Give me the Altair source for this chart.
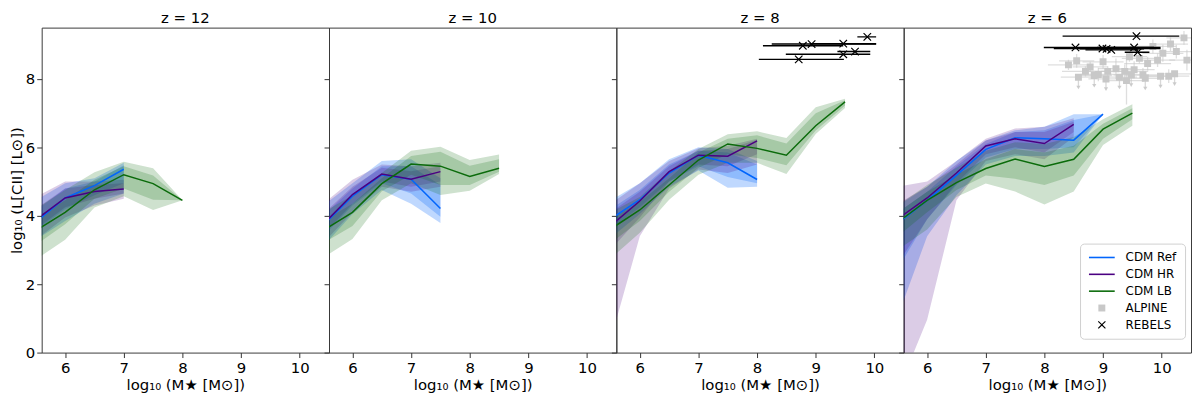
import altair as alt
import pandas as pd

# ---------------- labels / ticks ----------------
PANEL_TITLES = ["z = 12", "z = 10", "z = 8", "z = 6"]
LEGEND_ITEMS = ["CDM Ref", "CDM HR", "CDM LB", "ALPINE", "REBELS"]
X_TICKS = [6, 7, 8, 9, 10]
Y_TICKS = [0, 2, 4, 6, 8]

# ---------------- z = 12 ----------------
z12_ref_x = [5.5, 6.0, 6.5, 7.0]
z12_ref_y = [3.82, 4.52, 4.88, 5.36]
z12_ref_ilo = [3.55, 4.20, 4.60, 4.95]
z12_ref_ihi = [4.15, 4.80, 5.00, 5.48]
z12_ref_olo = [3.30, 3.85, 4.35, 4.65]
z12_ref_ohi = [4.45, 4.95, 5.10, 5.55]

z12_hr_x = [5.5, 6.0, 6.5, 7.0]
z12_hr_y = [3.88, 4.52, 4.71, 4.78]
z12_hr_ilo = [3.60, 4.25, 4.50, 4.65]
z12_hr_ihi = [4.20, 4.80, 4.90, 4.95]
z12_hr_olo = [3.30, 3.95, 4.30, 4.50]
z12_hr_ohi = [4.55, 5.00, 5.00, 5.05]

z12_lb_x = [5.5, 6.0, 6.5, 7.0, 7.5, 8.0]
z12_lb_y = [3.57, 4.10, 4.76, 5.20, 4.94, 4.45]
z12_lb_ilo = [3.15, 3.75, 4.50, 4.80, 4.47, 4.45]
z12_lb_ihi = [3.95, 4.45, 5.05, 5.45, 5.18, 4.45]
z12_lb_olo = [2.72, 3.30, 4.24, 4.57, 4.17, 4.45]
z12_lb_ohi = [4.20, 4.75, 5.27, 5.58, 5.39, 4.45]

# ---------------- z = 10 ----------------
z10_ref_x = [5.5, 6.0, 6.5, 7.0, 7.5]
z10_ref_y = [3.72, 4.57, 5.20, 5.07, 4.21]
z10_ref_ilo = [3.40, 4.30, 4.95, 4.65, 3.97]
z10_ref_ihi = [4.00, 4.80, 5.45, 5.45, 4.90]
z10_ref_olo = [3.10, 4.05, 4.75, 4.35, 3.79]
z10_ref_ohi = [4.30, 4.95, 5.60, 5.65, 5.10]

z10_hr_x = [5.5, 6.0, 6.5, 7.0, 7.5]
z10_hr_y = [3.75, 4.62, 5.22, 5.07, 5.29]
z10_hr_ilo = [3.45, 4.35, 5.00, 4.85, 5.00]
z10_hr_ihi = [4.05, 4.85, 5.40, 5.30, 5.45]
z10_hr_olo = [3.20, 4.10, 4.85, 4.70, 4.85]
z10_hr_ohi = [4.35, 5.05, 5.50, 5.45, 5.55]

z10_lb_x = [5.5, 6.0, 6.5, 7.0, 7.5, 8.0, 8.5]
z10_lb_y = [3.57, 4.10, 4.94, 5.51, 5.45, 5.15, 5.39]
z10_lb_ilo = [3.20, 3.70, 4.72, 5.20, 4.90, 4.90, 5.29]
z10_lb_ihi = [3.85, 4.35, 5.10, 5.75, 5.87, 5.46, 5.65]
z10_lb_olo = [2.77, 3.32, 4.45, 4.95, 4.61, 4.73, 5.22]
z10_lb_ohi = [4.10, 4.60, 5.25, 5.90, 6.02, 5.63, 5.79]

# ---------------- z = 8 ----------------
z8_ref_x = [5.5, 6.0, 6.5, 7.0, 7.5, 8.0]
z8_ref_y = [3.90, 4.47, 5.25, 5.77, 5.55, 5.06]
z8_ref_ilo = [3.60, 4.25, 5.00, 5.45, 5.13, 4.95]
z8_ref_ihi = [4.20, 4.75, 5.50, 5.90, 5.85, 5.50]
z8_ref_olo = [3.35, 4.05, 4.85, 5.32, 4.82, 4.85]
z8_ref_ohi = [4.45, 4.95, 5.65, 6.00, 5.95, 5.60]

z8_hr_x = [5.5, 6.0, 6.5, 7.0, 7.5, 8.0]
z8_hr_y = [3.70, 4.43, 5.29, 5.77, 5.74, 6.19]
z8_hr_ilo = [3.00, 3.95, 5.00, 5.50, 5.45, 5.80]
z8_hr_ihi = [4.10, 4.70, 5.45, 5.90, 5.95, 6.22]
z8_hr_olo = [0.35, 3.40, 4.80, 5.35, 5.25, 5.50]
z8_hr_ohi = [4.35, 4.95, 5.60, 5.97, 6.05, 6.25]

z8_lb_x = [5.5, 6.0, 6.5, 7.0, 7.5, 8.0, 8.5, 9.0, 9.5]
z8_lb_y = [3.61, 4.17, 4.90, 5.63, 6.10, 5.97, 5.77, 6.63, 7.33]
z8_lb_ilo = [3.20, 3.85, 4.70, 5.40, 5.80, 5.69, 5.48, 6.49, 7.22]
z8_lb_ihi = [3.90, 4.40, 5.10, 5.85, 6.25, 6.35, 6.11, 7.00, 7.38]
z8_lb_olo = [2.75, 3.50, 4.47, 5.20, 5.55, 5.55, 5.22, 6.39, 7.15]
z8_lb_ohi = [4.10, 4.55, 5.30, 5.95, 6.38, 6.47, 6.27, 7.17, 7.42]

# ---------------- z = 6 ----------------
z6_ref_x = [5.5, 6.0, 6.5, 7.0, 7.5, 8.0, 8.5, 9.0]
z6_ref_y = [3.78, 4.45, 5.18, 5.94, 6.28, 6.25, 6.21, 6.97]
z6_ref_ilo = [2.45, 3.90, 4.90, 5.70, 5.95, 5.95, 6.00, 6.97]
z6_ref_ihi = [4.10, 4.70, 5.45, 6.10, 6.45, 6.50, 6.80, 6.97]
z6_ref_olo = [1.06, 3.40, 4.60, 5.50, 5.75, 5.75, 5.85, 6.97]
z6_ref_ohi = [4.30, 4.85, 5.60, 6.20, 6.50, 6.60, 6.97, 6.97]

z6_hr_x = [5.5, 6.0, 6.5, 7.0, 7.5, 8.0, 8.5]
z6_hr_y = [3.91, 4.52, 5.25, 6.04, 6.25, 6.11, 6.67]
z6_hr_ilo = [2.60, 3.90, 4.95, 5.80, 6.00, 5.85, 6.45]
z6_hr_ihi = [4.35, 4.85, 5.50, 6.20, 6.45, 6.45, 6.75]
z6_hr_olo = [-1.13, 0.96, 4.45, 5.60, 5.80, 5.65, 6.30]
z6_hr_ohi = [4.85, 5.00, 5.60, 6.25, 6.55, 6.60, 6.85]

z6_lb_x = [5.5, 6.0, 6.5, 7.0, 7.5, 8.0, 8.5, 9.0, 9.5]
z6_lb_y = [3.81, 4.45, 4.97, 5.38, 5.66, 5.44, 5.65, 6.53, 7.00]
z6_lb_ilo = [3.40, 4.10, 4.75, 5.18, 5.08, 4.90, 5.18, 6.25, 6.82]
z6_lb_ihi = [4.10, 4.70, 5.20, 5.65, 5.95, 5.85, 6.05, 6.69, 7.14]
z6_lb_olo = [3.00, 3.60, 4.55, 4.94, 4.71, 4.33, 4.71, 6.07, 6.63]
z6_lb_ohi = [4.30, 4.90, 5.40, 5.90, 6.15, 6.10, 6.30, 6.82, 7.26]

# ---------------- REBELS ----------------
reb8_x = [8.78, 8.93, 9.47, 9.88, 9.47, 9.67, 8.71]
reb8_y = [8.97, 9.02, 9.03, 9.23, 8.72, 8.80, 8.57]
reb8_xlo = [8.10, 8.25, 8.90, 9.71, 8.49, 9.37, 8.03]
reb8_xhi = [9.47, 10.03, 10.03, 10.03, 9.93, 9.93, 9.48]

reb6_x = [9.57, 8.53, 8.99, 9.06, 9.14, 9.53, 9.59]
reb6_y = [9.25, 8.92, 8.89, 8.88, 8.85, 8.92, 8.78]
reb6_xlo = [8.31, 7.99, 8.16, 8.60, 8.70, 8.90, 9.37]
reb6_xhi = [10.30, 9.87, 9.98, 9.70, 9.60, 9.98, 9.79]

# ---------------- ALPINE (z = 6) ----------------
alp_x = [8.41, 8.55, 8.70, 8.92, 9.08, 9.22, 9.37, 9.53, 9.62, 9.76, 9.93,
         10.02, 10.15, 10.38, 10.43, 10.12, 9.85, 9.45, 9.00, 8.78, 9.68, 10.25, 9.40]
alp_y = [8.41, 8.53, 8.22, 8.13, 8.22, 8.30, 8.22, 8.27, 8.60, 8.45, 8.55,
         8.75, 9.02, 9.20, 8.55, 8.08, 8.95, 8.65, 8.50, 8.35, 8.12, 8.80, 7.95]
alp_xerr = [0.35, 0.30, 0.40, 0.30, 0.35, 0.30, 0.40, 0.35, 0.30, 0.40, 0.30,
            0.35, 0.30, 0.30, 0.30, 0.35, 0.40, 0.30, 0.35, 0.30, 0.30, 0.30, 0.30]
alp_yerr = [0.15, 0.20, 0.15, 0.20, 0.15, 0.30, 0.20, 0.25, 0.15, 0.20, 0.20,
            0.25, 0.20, 0.20, 0.30, 0.20, 0.20, 0.15, 0.20, 0.15, 0.20, 0.20, 0.70]
alp_ul_x = [8.58, 8.85, 9.05, 9.28, 9.48, 9.72, 9.98, 10.22]
alp_ul_y = [8.05, 8.10, 8.00, 8.05, 8.12, 8.02, 8.08, 8.15]
alp_ul_len = [0.30, 0.30, 0.30, 0.30, 0.30, 0.30, 0.30, 0.30]

# ---------------- styling ----------------
COLORS = ["#0165fc", "#4b0082", "#0b6b0b"]
BAND_OPACITY = [0.25, 0.2, 0.2]
ALPINE_COLOR = "#c8c8c8"
W, H = 290, 328
FONT = "DejaVu Sans"
FS = 15
LINE_PATH = "M-2.6,-0.16H2.6V0.16H-2.6Z"
SQ_PATH = "M-0.7,-0.7H0.7V0.7H-0.7Z"
X_PATH = ("M-0.8,-0.64L-0.64,-0.8L0,-0.16L0.64,-0.8L0.8,-0.64L0.16,0"
          "L0.8,0.64L0.64,0.8L0,0.16L-0.64,0.8L-0.8,0.64L-0.16,0Z")

XS = alt.Scale(domain=[5.6, 10.5], nice=False, zero=False)
YS = alt.Scale(domain=[0, 9.5], nice=False, zero=False)


def xenc(field="x"):
    return alt.X(f"{field}:Q", scale=XS,
                 axis=alt.Axis(values=X_TICKS, format="d", title="log₁₀ (M★ [M⊙])",
                               titlePadding=2))


def yenc(field, first):
    if first:
        ax = alt.Axis(values=Y_TICKS, format="d", title="log₁₀ (L[CII] [L⊙])",
                      titlePadding=1, labelPadding=2)
    else:
        ax = alt.Axis(values=Y_TICKS, labels=False, title=None)
    return alt.Y(f"{field}:Q", scale=YS, axis=ax)


def sdf(x, y, ilo, ihi, olo, ohi):
    return pd.DataFrame(dict(x=x, y=y, ilo=ilo, ihi=ihi, olo=olo, ohi=ohi))


def panel(title, dfs, first, extras):
    bands, lines = [], []
    for df, col, op in zip(dfs, COLORS, BAND_OPACITY):
        base = alt.Chart(df)
        bands.append(base.mark_area(color=col, opacity=op, clip=True).encode(
            x=xenc(), y=yenc("olo", first), y2="ohi:Q"))
        bands.append(base.mark_area(color=col, opacity=op, clip=True).encode(
            x=xenc(), y=yenc("ilo", first), y2="ihi:Q"))
        lines.append(base.mark_line(color=col, strokeWidth=1.5, clip=True).encode(
            x=xenc(), y=yenc("y", first)))
    return alt.layer(*(bands + lines + extras)).properties(
        width=W, height=H, title=alt.TitleParams(title))


def rebels_layers(x, y, xlo, xhi, legend=None):
    df = pd.DataFrame(dict(x=x, y=y, xlo=xlo, xhi=xhi, series="REBELS"))
    bars = alt.Chart(df).mark_rule(color="black", strokeWidth=1.4, clip=True).encode(
        x=xenc("xlo"), x2="xhi:Q", y=yenc("y", False))
    if legend is None:
        pts = alt.Chart(df).mark_point(shape=X_PATH, filled=True, size=110, color="black",
                                       opacity=1, clip=True).encode(x=xenc(), y=yenc("y", False))
    else:
        pts = alt.Chart(df).mark_point(filled=True, size=110, opacity=1, clip=True).encode(
            x=xenc(), y=yenc("y", False), **legend)
    return [bars, pts]


# ---------------- panels ----------------
p12 = panel(PANEL_TITLES[0], [
    sdf(z12_ref_x, z12_ref_y, z12_ref_ilo, z12_ref_ihi, z12_ref_olo, z12_ref_ohi),
    sdf(z12_hr_x, z12_hr_y, z12_hr_ilo, z12_hr_ihi, z12_hr_olo, z12_hr_ohi),
    sdf(z12_lb_x, z12_lb_y, z12_lb_ilo, z12_lb_ihi, z12_lb_olo, z12_lb_ohi)], True, [])

p10 = panel(PANEL_TITLES[1], [
    sdf(z10_ref_x, z10_ref_y, z10_ref_ilo, z10_ref_ihi, z10_ref_olo, z10_ref_ohi),
    sdf(z10_hr_x, z10_hr_y, z10_hr_ilo, z10_hr_ihi, z10_hr_olo, z10_hr_ohi),
    sdf(z10_lb_x, z10_lb_y, z10_lb_ilo, z10_lb_ihi, z10_lb_olo, z10_lb_ohi)], False, [])

p8 = panel(PANEL_TITLES[2], [
    sdf(z8_ref_x, z8_ref_y, z8_ref_ilo, z8_ref_ihi, z8_ref_olo, z8_ref_ohi),
    sdf(z8_hr_x, z8_hr_y, z8_hr_ilo, z8_hr_ihi, z8_hr_olo, z8_hr_ohi),
    sdf(z8_lb_x, z8_lb_y, z8_lb_ilo, z8_lb_ihi, z8_lb_olo, z8_lb_ohi)], False,
    rebels_layers(reb8_x, reb8_y, reb8_xlo, reb8_xhi))

# legend (shared colour + shape scales for panel z = 6)
leg = alt.Legend(title=None, orient="none", legendX=W - 112, legendY=H - 110,
                 fillColor="white", strokeColor="#cfcfcf", cornerRadius=4, padding=8,
                 labelFont=FONT, labelFontSize=12, labelColor="black",
                 symbolSize=100, symbolStrokeWidth=0, symbolOffset=8, labelOffset=18,
                 rowPadding=5)
color_scale = alt.Scale(domain=LEGEND_ITEMS, range=COLORS + [ALPINE_COLOR, "black"])
shape_scale = alt.Scale(domain=LEGEND_ITEMS, range=[LINE_PATH, LINE_PATH, LINE_PATH, SQ_PATH, X_PATH])
legend_enc = dict(color=alt.Color("series:N", scale=color_scale, legend=leg),
                  shape=alt.Shape("series:N", scale=shape_scale, legend=leg))

alp_df = pd.DataFrame(dict(x=alp_x, y=alp_y, xerr=alp_xerr, yerr=alp_yerr, series="ALPINE"))
alp_df["xlo"] = alp_df["x"] - alp_df["xerr"]
alp_df["xhi"] = alp_df["x"] + alp_df["xerr"]
alp_df["ylo"] = alp_df["y"] - alp_df["yerr"]
alp_df["yhi"] = alp_df["y"] + alp_df["yerr"]
ul_df = pd.DataFrame(dict(x=alp_ul_x, y=alp_ul_y, length=alp_ul_len, series="ALPINE"))
ul_df["xlo"] = ul_df["x"] - 0.3
ul_df["xhi"] = ul_df["x"] + 0.3
ul_df["yend"] = ul_df["y"] - ul_df["length"]
alp_all = pd.concat([alp_df[["x", "y", "xlo", "xhi", "series"]],
                     ul_df[["x", "y", "xlo", "xhi", "series"]]], ignore_index=True)

alp_layers = [
    alt.Chart(alp_all).mark_rule(color=ALPINE_COLOR, opacity=0.6, strokeWidth=1.3, clip=True).encode(
        x=xenc("xlo"), x2="xhi:Q", y=yenc("y", False)),
    alt.Chart(alp_df).mark_rule(color=ALPINE_COLOR, opacity=0.6, strokeWidth=1.3, clip=True).encode(
        x=xenc(), y=yenc("ylo", False), y2="yhi:Q"),
    alt.Chart(ul_df).mark_rule(color=ALPINE_COLOR, opacity=0.7, strokeWidth=1.3, clip=True).encode(
        x=xenc(), y=yenc("yend", False), y2="y:Q"),
    alt.Chart(ul_df).mark_point(shape="triangle-down", filled=True, size=18, color=ALPINE_COLOR,
                                opacity=0.9, clip=True).encode(x=xenc(), y=yenc("yend", False)),
    alt.Chart(alp_all).mark_point(filled=True, size=100, opacity=1, clip=True).encode(
        x=xenc(), y=yenc("y", False), **legend_enc),
]

p6 = panel(PANEL_TITLES[3], [
    sdf(z6_ref_x, z6_ref_y, z6_ref_ilo, z6_ref_ihi, z6_ref_olo, z6_ref_ohi),
    sdf(z6_hr_x, z6_hr_y, z6_hr_ilo, z6_hr_ihi, z6_hr_olo, z6_hr_ohi),
    sdf(z6_lb_x, z6_lb_y, z6_lb_ilo, z6_lb_ihi, z6_lb_olo, z6_lb_ohi)], False,
    alp_layers + rebels_layers(reb6_x, reb6_y, reb6_xlo, reb6_xhi, legend=legend_enc))

chart = (
    alt.hconcat(p12, p10, p8, p6, spacing=0, bounds="flush",
                padding={"left": 0, "top": 0, "right": 0, "bottom": 0})
    .resolve_scale(color="independent", shape="independent")
    .configure_view(stroke="#3a3a3a", strokeWidth=1)
    .configure_axis(grid=False, domain=False, tickColor="#333333", tickSize=5, tickWidth=1,
                    labelFont=FONT, labelFontSize=FS, labelColor="black", labelPadding=3,
                    titleFont=FONT, titleFontSize=FS, titleFontWeight="normal",
                    titleColor="black")
    .configure_title(font=FONT, fontSize=FS, fontWeight="normal", color="black", offset=2)
)

chart.save("out.html", embed_options={"renderer": "svg", "actions": False})
